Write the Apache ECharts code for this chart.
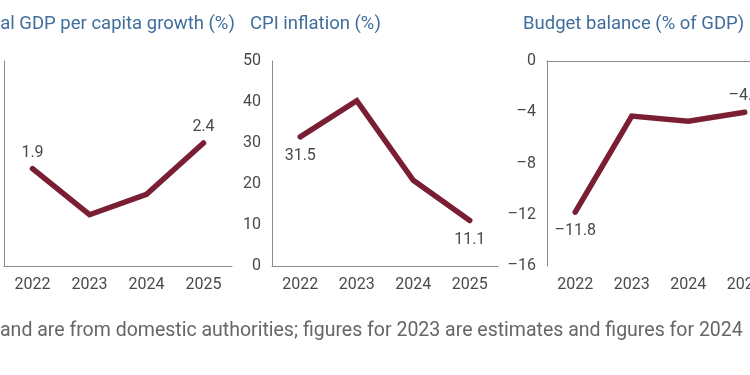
<!DOCTYPE html>
<html>
<head>
<meta charset="utf-8">
<script src="https://cdn.jsdelivr.net/npm/echarts@6/dist/echarts.min.js"></script>
<style>
  html, body { margin: 0; padding: 0; background: #fff; }
  #main { width: 750px; height: 375px; }
</style>
</head>
<body>
<div id="main"></div>
<script>
// data
var years = ['2022', '2023', '2024', '2025'];
var gdpGrowth = [1.9, 1.0, 1.4, 2.4];
var cpiInflation = [31.5, 40.3, 20.9, 11.1];
var budgetBalance = [-11.8, -4.3, -4.7, -4.0];
var titles = ['Real GDP per capita growth (%)', 'CPI inflation (%)', 'Budget balance (% of GDP)'];
var footnote = 'and are from domestic authorities; figures for 2023 are estimates and figures for 2024';

var lineColor = '#7a1f33';
var titleColor = '#3f6e9c';
var textColor = '#4a4a4a';
var axisColor = '#8a8a8a';
var font = 'Roboto, "Liberation Sans", sans-serif';

function dash(v) {
    return String(v).replace('-', '\u2013');
}

// only first and last points get a value label
function withLabels(values, firstPos, lastPos, firstDist, lastDist) {
    return values.map(function (v, i) {
        var item = { value: v };
        if (i === 0 || i === values.length - 1) {
            item.label = {
                show: true,
                position: i === 0 ? firstPos : lastPos,
                distance: i === 0 ? firstDist : lastDist
            };
        }
        return item;
    });
}

var myChart = echarts.init(document.getElementById('main'));

// the picture is a crop: first and last panels run off the edges
var grids = [
    { left: 4, top: 61, width: 228, height: 205, outerBoundsMode: 'none' },
    { left: 272, top: 61, width: 226, height: 205, outerBoundsMode: 'none' },
    { left: 547, top: 61, width: 226, height: 205, outerBoundsMode: 'none' }
];

function xAxisFor(i) {
    return {
        type: 'category',
        gridIndex: i,
        data: years,
        axisLine: { lineStyle: { color: axisColor, width: 1 } },
        axisTick: { show: false },
        axisLabel: { color: textColor, fontSize: 16, fontFamily: font, margin: 11, interval: 0 }
    };
}

function yAxisFor(i, min, max, interval, showLabels) {
    return {
        type: 'value',
        gridIndex: i,
        min: min,
        max: max,
        interval: interval,
        splitLine: { show: false },
        axisTick: { show: false },
        axisLine: { show: true, lineStyle: { color: axisColor, width: 1 } },
        axisLabel: {
            show: showLabels,
            color: textColor,
            fontSize: 16,
            fontFamily: font,
            margin: 11,
            formatter: function (v) { return dash(v); }
        }
    };
}

function lineSeries(i, data) {
    return {
        type: 'line',
        xAxisIndex: i,
        yAxisIndex: i,
        data: data,
        symbol: 'circle',
        symbolSize: 0,
        showSymbol: true,
        itemStyle: { color: lineColor },
        lineStyle: { color: lineColor, width: 5.5, cap: 'round', join: 'miter' },
        label: {
            color: textColor,
            fontSize: 16,
            fontFamily: font,
            formatter: function (p) { return dash(p.value.toFixed(1)); }
        },
        silent: true,
        animation: false
    };
}

var titleX = [-21, 250, 523];

var option = {
    animation: false,
    grid: grids,
    xAxis: [xAxisFor(0), xAxisFor(1), xAxisFor(2)],
    yAxis: [
        yAxisFor(0, 0, 4, 1, false),
        yAxisFor(1, 0, 50, 10, true),
        yAxisFor(2, -16, 0, 4, true)
    ],
    series: [
        lineSeries(0, withLabels(gdpGrowth, 'top', 'top', 8, 8)),
        lineSeries(1, withLabels(cpiInflation, 'bottom', 'bottom', 11, 12)),
        lineSeries(2, withLabels(budgetBalance, 'bottom', 'top', 11, 8))
    ],
    graphic: titles.map(function (t, i) {
        return {
            type: 'text',
            left: titleX[i],
            top: 15,
            style: {
                text: t,
                fill: titleColor,
                fontSize: 18.5,
                fontFamily: font
            }
        };
    }).concat([{
        type: 'text',
        left: 0,
        top: 321,
        style: {
            text: footnote,
            fill: '#666',
            fontSize: 19.5,
            fontFamily: font
        }
    }])
};

myChart.setOption(option);
</script>
</body>
</html>
